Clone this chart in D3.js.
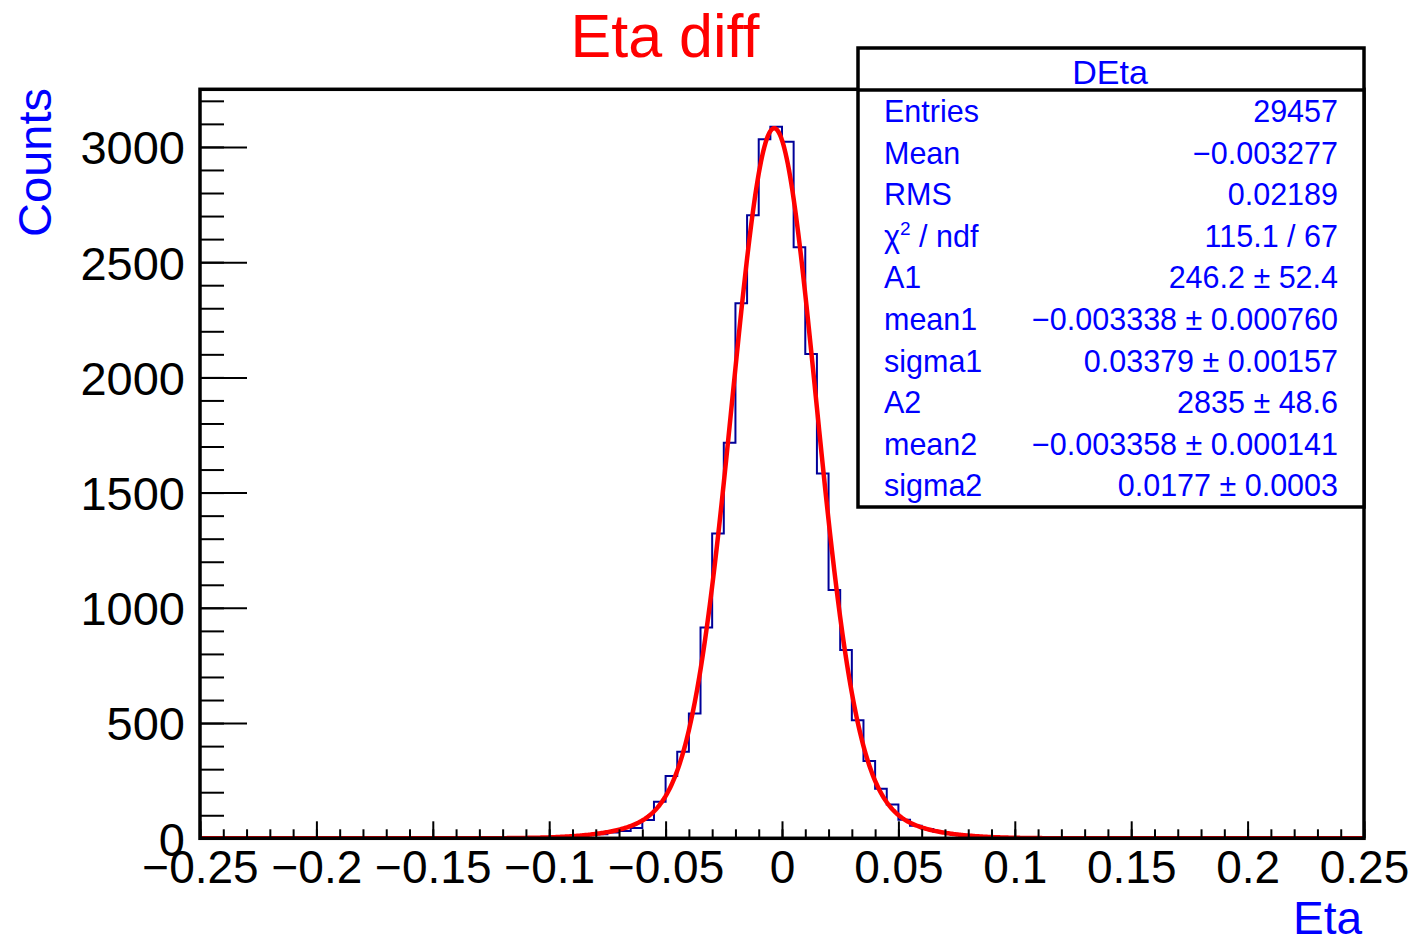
<!DOCTYPE html>
<html><head><meta charset="utf-8">
<script src="https://cdn.jsdelivr.net/npm/d3@7"></script>
<style>
body{margin:0;background:#fff}
svg{display:block}
text{font-family:"Liberation Sans",Arial,Helvetica,sans-serif}
</style>
</head><body>
<svg id="c" width="1414" height="947"></svg>
<script>
// ---- data ----
const binRange = [-0.25, 0.25];
const counts = [
  0,0,0,0,0,0,0,0,0,0, 0,0,0,0,0,0,0,0,0,0, 0,0,0,0,0,
  1,1,2,2,4,5,7,10,14,18,25,32,45,79,159,270,376,542,915,1323,
  1716,2322,2704,3033,3087,3022,2565,2101,1583,1077,817,512,335,215,147,80,
  55,40,28,20,15,10,7,5,4,3,2,1,1,
  0,0,0,0,0,0,0,0,0,0, 0,0,0,0,0,0,0,0,0,0, 0,0,0,0,0,0
];
const xTickValues = [-0.25,-0.2,-0.15,-0.1,-0.05,0,0.05,0.1,0.15,0.2,0.25];
const xTickLabels = ["\u22120.25","\u22120.2","\u22120.15","\u22120.1","\u22120.05","0","0.05","0.1","0.15","0.2","0.25"];
const yTickValues = [0,500,1000,1500,2000,2500,3000];
const yTickLabels = ["0","500","1000","1500","2000","2500","3000"];
const fitAmp = [246.2, 2835];
const fitMean = [-0.003338, -0.003358];
const fitSigma = [0.03379, 0.0177];
const statLabels = ["Entries","Mean","RMS","CHI","A1","mean1","sigma1","A2","mean2","sigma2"];
const statValues = ["29457","\u22120.003277","0.02189","115.1 / 67","246.2 \u00b1 52.4",
  "\u22120.003338 \u00b1 0.000760","0.03379 \u00b1 0.00157","2835 \u00b1 48.6",
  "\u22120.003358 \u00b1 0.000141","0.0177 \u00b1 0.0003"];

// ---- layout ----
const svg = d3.select("#c");
const L = 200, R = 1364, T = 89.3, B = 838.3;
const x = d3.scaleLinear().domain(binRange).range([L, R]);
const y = d3.scaleLinear().domain([0, 3250]).range([B, T]);
const nb = counts.length;
const bw = (binRange[1] - binRange[0]) / nb;

svg.append("rect").attr("width",1414).attr("height",947).attr("fill","#fff");

svg.append("clipPath").attr("id","fr").append("rect")
  .attr("x",L).attr("y",T).attr("width",R-L).attr("height",B-T);

// histogram step outline
const pts = [];
counts.forEach((c,i)=>{ pts.push([binRange[0]+i*bw, c]); });
pts.push([binRange[1], counts[nb-1]]);
const hLine = d3.line().x(d=>x(d[0])).y(d=>y(d[1])).curve(d3.curveStepAfter);
svg.append("path").attr("d", hLine(pts)).attr("fill","none")
  .attr("stroke","#000099").attr("stroke-width",2).attr("clip-path","url(#fr)");

// fit curve (double gaussian with the parameters printed in the stats box)
const f = v => fitAmp.reduce((s,a,j)=> s + a*Math.exp(-0.5*Math.pow((v-fitMean[j])/fitSigma[j],2)), 0);
const xs = d3.range(0, 1001).map(i => binRange[0] + i*(binRange[1]-binRange[0])/1000);
svg.append("path").attr("d", d3.line().x(v=>x(v)).y(v=>y(f(v)))(xs))
  .attr("fill","none").attr("stroke","#ff0000").attr("stroke-width",4.5)
  .attr("stroke-linejoin","round").attr("clip-path","url(#fr)");

// x axis: minor ticks
const gxm = svg.append("g").attr("transform",`translate(0,${B})`);
gxm.call(d3.axisBottom(x).tickValues(d3.range(-25,26).map(i=>i/100)).tickSize(-9).tickFormat(""));
// x axis: major ticks + labels
const gx = svg.append("g").attr("transform",`translate(0,${B})`);
gx.call(d3.axisBottom(x).tickValues(xTickValues).tickSize(-17).tickPadding(12)
  .tickFormat((d,i)=>xTickLabels[i]));
[gxm, gx].forEach(g=>{
  g.selectAll(".domain").remove();
  g.selectAll("line").attr("stroke","#000").attr("stroke-width",2);
});
gx.selectAll("text").attr("font-size",46).attr("fill","#000");

// y axis: minor ticks
const gym = svg.append("g").attr("transform",`translate(${L},0)`);
gym.call(d3.axisLeft(y).tickValues(d3.range(0,3201,100)).tickSize(-24).tickFormat(""));
// y axis: major ticks + labels
const gy = svg.append("g").attr("transform",`translate(${L},0)`);
gy.call(d3.axisLeft(y).tickValues(yTickValues).tickSize(-47).tickPadding(15)
  .tickFormat((d,i)=>yTickLabels[i]));
[gym, gy].forEach(g=>{
  g.selectAll(".domain").remove();
  g.selectAll("line").attr("stroke","#000").attr("stroke-width",2);
});
gy.selectAll("text").attr("font-size",47).attr("fill","#000").attr("dy","0.36em");

// frame
svg.append("rect").attr("x",L).attr("y",T).attr("width",R-L).attr("height",B-T)
  .attr("fill","none").attr("stroke","#000").attr("stroke-width",3.5);

// titles
svg.append("text").attr("x",665).attr("y",57).attr("text-anchor","middle")
  .attr("font-size",61).attr("fill","#ff0000").text("Eta diff");
svg.append("text").attr("transform","translate(51,88) rotate(-90)").attr("text-anchor","end")
  .attr("font-size",47).attr("fill","#0000ff").text("Counts");
svg.append("text").attr("x",1362).attr("y",934).attr("text-anchor","end")
  .attr("font-size",46).attr("fill","#0000ff").text("Eta");

// stats box
const bx = 858, by = 48, bwid = R - bx, bh = 459;
const g = svg.append("g");
g.append("rect").attr("x",bx).attr("y",by).attr("width",bwid).attr("height",bh)
  .attr("fill","#fff").attr("stroke","#000").attr("stroke-width",3.5);
g.append("line").attr("x1",bx).attr("x2",bx+bwid).attr("y1",90).attr("y2",90)
  .attr("stroke","#000").attr("stroke-width",3.5);
g.append("text").attr("x",1110).attr("y",84).attr("text-anchor","middle")
  .attr("font-size",34).attr("fill","#0000ff").text("DEta");
statLabels.forEach((lab,i)=>{
  const yy = 122 + 41.6*i;
  const t = g.append("text").attr("x",884).attr("y",yy).attr("font-size",30.5).attr("fill","#0000ff");
  if (lab === "CHI") {
    t.append("tspan").text("\u03c7");
    t.append("tspan").attr("font-size",19).attr("dy",-12).text("2");
    t.append("tspan").attr("dy",12).text(" / ndf");
  } else t.text(lab);
  g.append("text").attr("x",1338).attr("y",yy).attr("text-anchor","end")
    .attr("font-size",30.5).attr("fill","#0000ff").text(statValues[i]);
});
</script>
</body></html>
